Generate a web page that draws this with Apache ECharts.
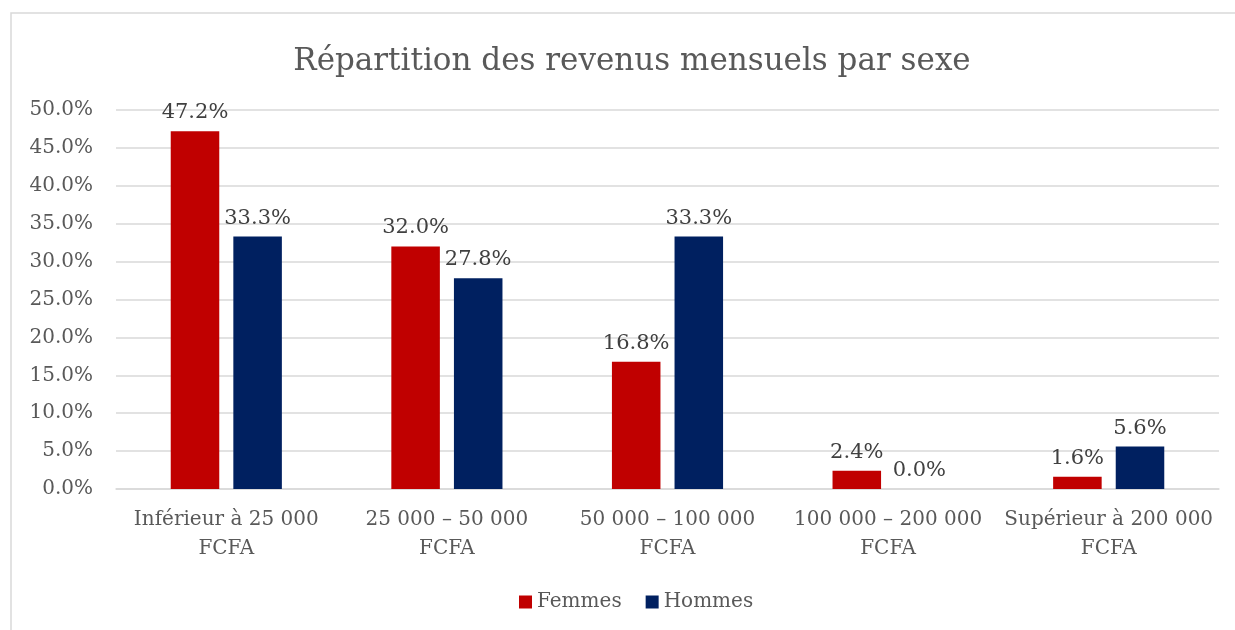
<!DOCTYPE html>
<html style="height: 100%">
<head>
<meta charset="UTF-8">
<title>Répartition des revenus mensuels par sexe</title>
<script src="https://cdn.jsdelivr.net/npm/echarts@6/dist/echarts.min.js"></script>
</head>
<body style="height: 100%; margin: 0; background: #fff">
<div id="chart" style="width: 1235px; height: 630px"></div>
<script type="text/javascript">
// categories and values (percent)
var categories = [
	'Inférieur à 25 000\nFCFA',
	'25 000 – 50 000\nFCFA',
	'50 000 – 100 000\nFCFA',
	'100 000 – 200 000\nFCFA',
	'Supérieur à 200 000\nFCFA'
];
var femmes = [47.2, 32.0, 16.8, 2.4, 1.6];
var hommes = [33.3, 27.8, 33.3, 0.0, 5.6];
var seriesNames = ['Femmes', 'Hommes'];

var font = 'DejaVu Serif';
var myChart = echarts.init(document.getElementById('chart'));

var seriesLabel = {
	show: true,
	position: 'top',
	distance: 8,
	color: '#404040',
	fontFamily: font,
	fontSize: 21,
	formatter: function (p) { return p.value.toFixed(1) + '%'; }
};

var option = {
	animation: false,
	graphic: [{
		type: 'rect',
		shape: { x: 11, y: 13, width: 1240, height: 640 },
		style: { fill: 'none', stroke: '#d9d9d9', lineWidth: 1.5 },
		silent: true
	}],
	title: {
		text: 'Répartition des revenus mensuels par sexe',
		left: 627,
		textAlign: 'center',
		top: 41,
		textStyle: { fontFamily: font, fontSize: 31, fontWeight: 'normal', color: '#595959' }
	},
	legend: {
		data: seriesNames,
		bottom: 13,
		left: 514,
		itemWidth: 13,
		itemHeight: 13,
		itemGap: 24,
		icon: 'rect',
		textStyle: { fontFamily: font, fontSize: 20, color: '#595959' }
	},
	grid: { left: 116, right: 16, top: 110, bottom: 141 },
	xAxis: {
		type: 'category',
		data: categories,
		axisTick: { show: false },
		axisLine: { lineStyle: { color: '#d9d9d9', width: 1.5 } },
		axisLabel: {
			interval: 0,
			margin: 16,
			lineHeight: 29,
			color: '#595959',
			fontFamily: font,
			fontSize: 20
		}
	},
	yAxis: {
		type: 'value',
		min: 0,
		max: 50,
		interval: 5,
		axisLine: { show: false },
		axisTick: { show: false },
		splitLine: { lineStyle: { color: '#d9d9d9', width: 1.5 } },
		axisLabel: {
			margin: 23,
			color: '#595959',
			fontFamily: font,
			fontSize: 20,
			formatter: function (v) { return v.toFixed(1) + '%'; }
		}
	},
	series: [{
		name: seriesNames[0],
		type: 'bar',
		data: femmes,
		barWidth: '22%',
		barGap: '29%',
		itemStyle: { color: '#C00000' },
		label: seriesLabel
	}, {
		name: seriesNames[1],
		type: 'bar',
		data: hommes,
		barWidth: '22%',
		itemStyle: { color: '#002060' },
		label: seriesLabel
	}]
};
myChart.setOption(option);
</script>
</body>
</html>
